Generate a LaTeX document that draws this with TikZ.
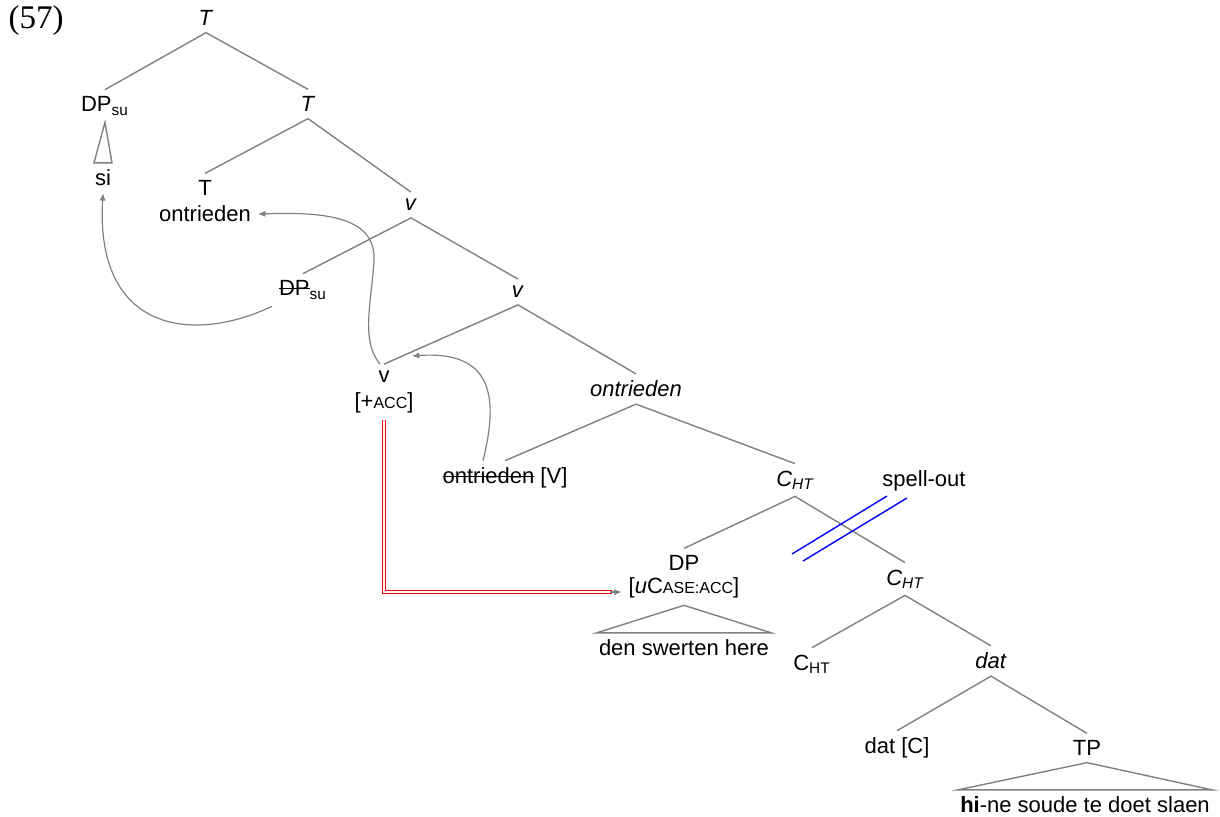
\documentclass[tikz,border=0pt]{standalone}
\usepackage{fontspec}
\setmainfont{Liberation Sans}
\newfontfamily\exfont{Liberation Serif}
\usepackage{tikz}
\usetikzlibrary{arrows.meta}

\newcommand{\smc}[1]{{\fontsize{8}{9}\selectfont #1}}
\newsavebox\strkbox
\newcommand{\strk}[1]{\sbox\strkbox{#1}\rlap{\rule[0.3em]{\wd\strkbox}{0.07em}}\usebox\strkbox}

\begin{document}
\begin{tikzpicture}[x=0.5pt,y=-0.5pt,font=\fontsize{11}{13}\selectfont,
  branch/.style={draw=gray,line width=0.7pt},
  move/.style={draw=gray,line width=0.6pt,-{Latex[length=1.3mm,width=1.1mm]}},
  agree/.style={draw=red,line width=0.55pt,double=white,double distance=1.1pt}]
  \useasboundingbox (0,0) rectangle (1220,816);
  \node[font=\exfont\fontsize{16.5}{18}\selectfont] (exno) at (36,21) {(57)};
  % nodes
  \node (T1) at (206,18) {\textit{T}};
  \node (DPsu) at (105,106) {DP\textsubscript{su}};
  \node (si) at (103,178) {si};
  \node (T2) at (308,104) {\textit{T}};
  \node (Th) at (205,188) {T};
  \node (Tw) at (205,214) {ontrieden};
  \node (v1) at (411,205) {\textit{v}};
  \node (dptr) at (303,290) {\strk{DP}\textsubscript{su}};
  \node (v2) at (518,292) {\textit{v}};
  \node (vh) at (384,377) {v};
  \node (vacc) at (384,403) {[+\smc{ACC}]};
  \node (ontr) at (636,389) {\textit{ontrieden}};
  \node (vtr) at (505,478) {\strk{ontrieden} [V]};
  \node (cht1) at (795,480) {\textit{C\textsubscript{HT}}};
  \node (spell) at (924,481) {spell-out};
  \node (dp) at (684,563) {DP};
  \node (dpf) at (684,588) {[\textit{u}C\smc{ASE:ACC}]};
  \node[inner xsep=1pt] (dpw) at (684,648) {den swerten here};
  \node (cht2) at (905,579) {\textit{C\textsubscript{HT}}};
  \node (cht3) at (812,664) {C\textsubscript{HT}};
  \node (dat1) at (991,661) {\textit{dat}};
  \node (datc) at (897,748) {dat [C]};
  \node (tp) at (1087,748) {TP};
  \node[inner xsep=1pt] (tpw) at (1085,805) {\textbf{hi}-ne soude te doet slaen};
  % branches
  \draw[branch] (DPsu.north) -- (T1.south) -- (T2.north);
  \draw[branch] (Th.north) -- (T2.south) -- (v1.north);
  \draw[branch] (dptr.north) -- (v1.south) -- (v2.north);
  \draw[branch] (vh.north) -- (v2.south) -- (ontr.north);
  \draw[branch] (vtr.north) -- (ontr.south) -- (cht1.north);
  \draw[branch] (dp.north) -- (cht1.south) -- (cht2.north);
  \draw[branch] (cht3.north) -- (cht2.south) -- (dat1.north);
  \draw[branch] (datc.north) -- (dat1.south) -- (tp.north);
  % triangles
  \draw[branch] (DPsu.south) -- ([xshift=-4.5pt]si.north) -- ([xshift=4.5pt]si.north) -- cycle;
  \draw[branch] (dpf.south) -- (dpw.north west) -- (dpw.north east) -- cycle;
  \draw[branch] (tp.south) -- (tpw.north west) -- (tpw.north east) -- cycle;
  % movement
  \draw[move] (dptr.south west) .. controls (190,345) and (95,330) .. (si.south);
  \draw[move] ([xshift=-2pt]vh.north) .. controls (360,340) and (372,300) .. (374,260)
    .. controls (376,215) and (320,212) .. (Tw.east);
  \coordinate (vtip) at (412,356);
  \draw[move] ([xshift=-11pt]vtr.north) .. controls (498,400) and (495,350) .. (vtip);
  % agree
  \draw[agree] (vacc.south) |- ([xshift=-5pt,yshift=-2pt]dpf.west);
  \draw[move] ([xshift=-6pt,yshift=-2pt]dpf.west) -- ([yshift=-2pt]dpf.west);
  % spell-out
  \draw[blue,line width=0.7pt] (792,554) -- (887,496);
  \draw[blue,line width=0.7pt] (803,561) -- (907,498);
\end{tikzpicture}
\end{document}
